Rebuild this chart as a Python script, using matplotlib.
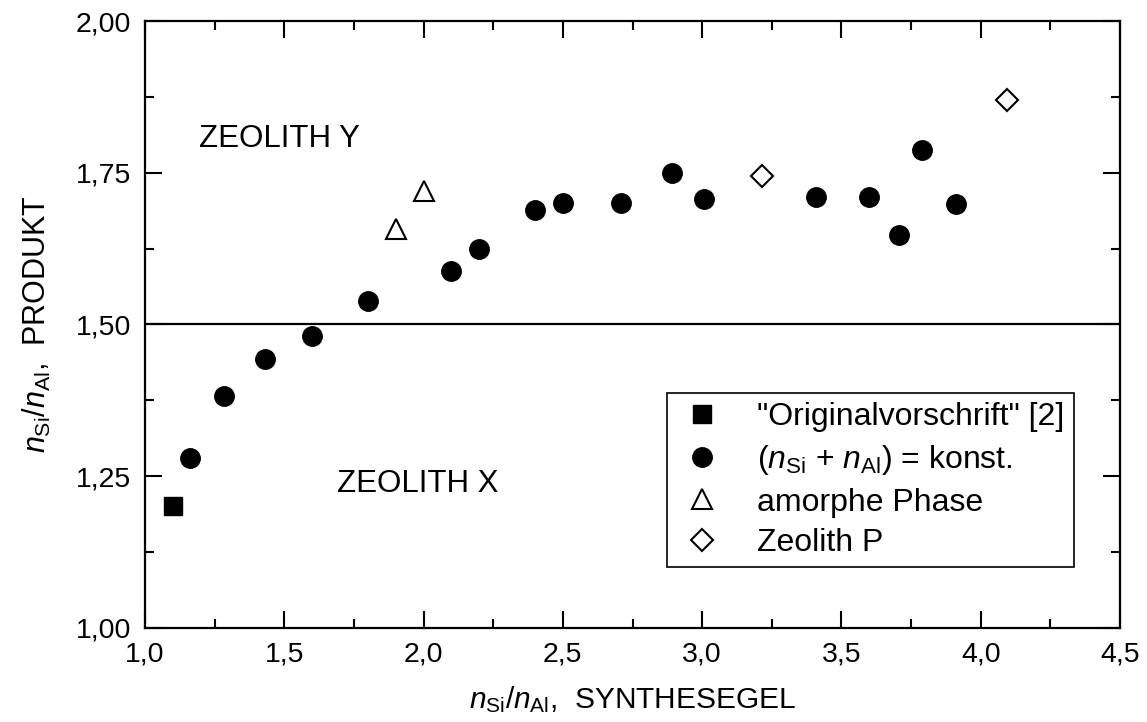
import matplotlib
matplotlib.use("Agg")
import matplotlib.pyplot as plt
from matplotlib.ticker import MultipleLocator, FuncFormatter

plt.rcParams['font.family'] = ['Liberation Sans', 'DejaVu Sans']
plt.rcParams['mathtext.fontset'] = 'custom'
plt.rcParams['mathtext.rm'] = 'Liberation Sans'
plt.rcParams['mathtext.it'] = 'Liberation Sans:italic'
plt.rcParams['mathtext.bf'] = 'Liberation Sans:bold'

# Original recipe
orig_x = [1.10]
orig_y = [1.20]

# (n_Si + n_Al) = const.
konst_x = [1.16, 1.285, 1.43, 1.60, 1.80, 2.10, 2.20, 2.40, 2.50, 2.71,
           2.89, 3.005, 3.41, 3.60, 3.705, 3.79, 3.91]
konst_y = [1.279, 1.382, 1.443, 1.481, 1.538, 1.588, 1.624, 1.688, 1.700, 1.700,
           1.750, 1.707, 1.710, 1.710, 1.647, 1.787, 1.698]

# amorphous phase
amorph_x = [1.90, 2.00]
amorph_y = [1.658, 1.719]

# zeolite P
zp_x = [3.215, 4.095]
zp_y = [1.745, 1.869]

boundary = 1.50

fig = plt.figure(figsize=(11.47, 7.22), dpi=100)
ax = fig.add_axes([0.1264, 0.1306, 0.8501, 0.8403])

ax.axhline(boundary, color='black', lw=1.6, zorder=1)

ax.plot(orig_x, orig_y, ls='none', marker='s', ms=13, color='black',
        label='"Originalvorschrift" [2]', zorder=3)
ax.plot(konst_x, konst_y, ls='none', marker='o', ms=14, color='black',
        label=r'($\mathit{n}_{\mathrm{Si}}$ + $\mathit{n}_{\mathrm{Al}}$) = konst.', zorder=3)
ax.plot(amorph_x, amorph_y, ls='none', marker='^', ms=14, mfc='white',
        mec='black', mew=1.5, label='amorphe Phase', zorder=3)
ax.plot(zp_x, zp_y, ls='none', marker='D', ms=11, mfc='white',
        mec='black', mew=1.5, label='Zeolith P', zorder=3)

ax.set_xlim(1.0, 4.5)
ax.set_ylim(1.0, 2.0)

ax.xaxis.set_major_locator(MultipleLocator(0.5))
ax.xaxis.set_minor_locator(MultipleLocator(0.25))
ax.yaxis.set_major_locator(MultipleLocator(0.25))
ax.yaxis.set_minor_locator(MultipleLocator(0.125))
ax.xaxis.set_major_formatter(FuncFormatter(lambda v, p: f"{v:.1f}".replace('.', ',')))
ax.yaxis.set_major_formatter(FuncFormatter(lambda v, p: f"{v:.2f}".replace('.', ',')))

ax.tick_params(which='both', direction='in', top=True, right=True,
               width=1.5, labelsize=20.5, color='black')
ax.tick_params(which='major', length=12, pad=10)
ax.tick_params(which='minor', length=6.5)
for s in ax.spines.values():
    s.set_linewidth(1.6)

ax.text(1.195, 1.805, 'ZEOLITH Y', fontsize=22.5, ha='left', va='center')
ax.text(1.688, 1.237, 'ZEOLITH X', fontsize=22.5, ha='left', va='center')

ax.set_xlabel(r'$\mathit{n}_{\mathrm{Si}}/\mathit{n}_{\mathrm{Al}}$,  SYNTHESEGEL',
              fontsize=21.5, labelpad=12)
ax.set_ylabel(r'$\mathit{n}_{\mathrm{Si}}/\mathit{n}_{\mathrm{Al}}$,  PRODUKT',
              fontsize=22, labelpad=16)

leg = ax.legend(loc='upper left', bbox_to_anchor=(0.5354, 0.387, 0.0, 0.0),
                fontsize=23, frameon=True, fancybox=False, edgecolor='black',
                framealpha=1, borderpad=0.28, labelspacing=0.34,
                handletextpad=0.9, handlelength=1.65, borderaxespad=0)
leg.get_frame().set_linewidth(1.2)

fig.savefig('out.png', dpi=100)
